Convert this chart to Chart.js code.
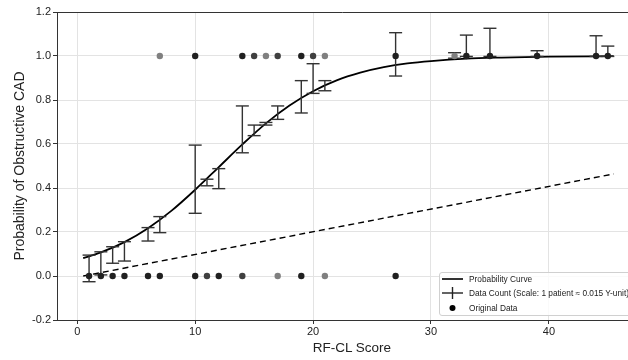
<!DOCTYPE html>
<html><head><meta charset="utf-8">
<script src="https://cdn.jsdelivr.net/npm/chart.js@4/dist/chart.umd.min.js"></script>
<style>
html,body{margin:0;padding:0;background:#fff;overflow:hidden;}
#wrap{position:relative;width:628px;height:360px;overflow:hidden;}
#legend{position:absolute;left:439px;top:272px;width:240px;height:42px;background:rgba(255,255,255,0.8);border:1px solid #d0d0d0;border-radius:3px;font-family:"Liberation Sans",Arial,sans-serif;font-size:8.3px;color:#222;}
.row{position:absolute;left:0;height:12px;display:flex;align-items:center;white-space:nowrap;}
.row svg{margin-left:2px;margin-right:6px;}
#xtitle{position:absolute;left:252px;width:200px;top:339px;height:18px;line-height:18px;text-align:center;font-family:"Liberation Sans",Arial,sans-serif;font-size:13.5px;color:#222;}
</style></head>
<body>
<div id="wrap">
<canvas id="c" width="628" height="360"></canvas>
<div id="xtitle">RF-CL Score</div>
<div id="legend">
  <div class="row" style="top:-0.5px"><svg width="21" height="12"><line x1="0" y1="6" x2="21" y2="6" stroke="#000" stroke-width="1.6"/></svg><span>Probability Curve</span></div>
  <div class="row" style="top:14px"><svg width="21" height="12"><line x1="0" y1="6" x2="21" y2="6" stroke="#222" stroke-width="1.4"/><line x1="10.5" y1="0" x2="10.5" y2="12" stroke="#222" stroke-width="1.4"/></svg><span>Data Count (Scale: 1 patient ≈ 0.015 Y-unit)</span></div>
  <div class="row" style="top:28.5px"><svg width="21" height="12"><circle cx="10.5" cy="6" r="3" fill="#000"/></svg><span>Original Data</span></div>
</div>
</div>
<script>
// ---- data ----
const curveX = [0.5, 2, 4, 6, 8, 10, 12, 14, 16, 18, 20, 22, 24, 26, 28, 30, 33, 36, 40, 45.5];
const curveY = [0.081, 0.107, 0.154, 0.217, 0.297, 0.392, 0.495, 0.598, 0.694, 0.775, 0.840, 0.889, 0.924, 0.949, 0.966, 0.977, 0.988, 0.993, 0.997, 0.999];

const refX = [0.5, 45.5];
const refY = [0.0, 0.464];

const errX    = [1, 2, 3, 4, 6, 7, 10, 11, 12, 14, 15, 16, 17, 19, 20, 21, 27, 32, 33, 35, 39, 44, 45];
const errLow  = [-0.026, 0.005, 0.058, 0.068, 0.159, 0.197, 0.285, 0.41, 0.397, 0.56, 0.638, 0.686, 0.712, 0.741, 0.83, 0.842, 0.909, 0.99, 0.998, 0.998, 0.998, 0.998, 0.998];
const errHigh = [0.095, 0.11, 0.133, 0.156, 0.22, 0.27, 0.595, 0.44, 0.488, 0.773, 0.686, 0.698, 0.773, 0.888, 0.965, 0.888, 1.106, 1.015, 1.095, 1.126, 1.024, 1.092, 1.045];

const pos1X     = [7, 10, 14, 15, 16, 17, 19, 20, 21, 27, 32, 33, 35, 39, 44, 45];
const pos1Count = [1, 3, 3, 2, 1, 2, 3, 2, 1, 3, 1, 3, 3, 3, 3, 3];
const pos0X     = [1, 2, 3, 4, 6, 7, 10, 11, 12, 14, 17, 19, 21, 27];
const pos0Count = [3, 3, 3, 3, 3, 3, 3, 2, 3, 2, 1, 3, 1, 3];

const xTicks = [0, 10, 20, 30, 40];
const yTicks = [-0.2, 0.0, 0.2, 0.4, 0.6, 0.8, 1.0, 1.2];
const xMin = -1.72, xMax = 46.71, yMin = -0.2, yMax = 1.2;

// ---- build datasets ----
const FONT = '"Liberation Sans", Arial, sans-serif';
const alphaColor = n => { const v = Math.round(255 * Math.pow(0.5, n)); return `rgb(${v},${v},${v})`; };

const pts = [], ptCols = [];
pos1X.forEach((x, i) => { pts.push({x, y: 1}); ptCols.push(alphaColor(pos1Count[i])); });
pos0X.forEach((x, i) => { pts.push({x, y: 0}); ptCols.push(alphaColor(pos0Count[i])); });

const errData = [];
errX.forEach((x, i) => { errData.push({x, y: errLow[i]}, {x, y: errHigh[i]}, {x, y: null}); });

const topSpine = {
  id: 'topSpine',
  afterDraw(chart) {
    const {ctx, chartArea: a} = chart;
    ctx.save(); ctx.strokeStyle = '#333'; ctx.lineWidth = 1;
    ctx.beginPath(); ctx.moveTo(a.left, a.top + 0.5); ctx.lineTo(a.right, a.top + 0.5); ctx.stroke();
    ctx.restore();
  }
};

new Chart(document.getElementById('c'), {
  type: 'scatter',
  data: {
    datasets: [
      { label: 'Original Data', data: pts, backgroundColor: ptCols, pointRadius: 3.2, borderWidth: 0, pointBorderWidth: 0 },
      { label: 'Data Count', data: errData, showLine: true, spanGaps: false, borderColor: '#333', borderWidth: 1.4,
        pointStyle: 'line', pointRadius: 6.5, pointBorderColor: '#333', pointBorderWidth: 1.4, pointBackgroundColor: '#333' },
      { label: 'Probability Curve', data: curveX.map((x, i) => ({x, y: curveY[i]})), showLine: true,
        borderColor: '#000', borderWidth: 1.8, pointRadius: 0, cubicInterpolationMode: 'monotone' },
      { label: 'Reference', data: refX.map((x, i) => ({x, y: refY[i]})), showLine: true,
        borderColor: '#000', borderWidth: 1.4, borderDash: [6, 4], pointRadius: 0 }
    ]
  },
  options: {
    responsive: false, devicePixelRatio: 1, animation: false,
    layout: { autoPadding: false, padding: { top: 12, right: 0, bottom: 0, left: 0 } },
    plugins: { legend: { display: false }, tooltip: { enabled: false } },
    scales: {
      x: {
        type: 'linear', min: xMin, max: xMax,
        afterBuildTicks: a => { a.ticks = xTicks.map(v => ({value: v})); },
        afterFit: a => { a.height = 40; a.paddingLeft = 0; a.paddingRight = 0; },
        ticks: { font: {family: FONT, size: 11}, color: '#222', padding: 1, maxRotation: 0, callback: v => String(v) },
        grid: { color: '#e3e3e3', lineWidth: 1, tickColor: '#333', tickLength: 4 },
        border: { color: '#333', width: 1 },
        title: { display: false }
      },
      y: {
        type: 'linear', min: yMin, max: yMax,
        afterBuildTicks: a => { a.ticks = yTicks.map(v => ({value: v})); },
        afterFit: a => { a.width = 57; a.paddingTop = 0; a.paddingBottom = 0; },
        ticks: { font: {family: FONT, size: 11}, color: '#222', padding: 2, callback: v => Number(v).toFixed(1) },
        grid: { color: '#e3e3e3', lineWidth: 1, tickColor: '#333', tickLength: 4 },
        border: { color: '#333', width: 1 },
        title: { display: true, text: 'Probability of Obstructive CAD', font: {family: FONT, size: 14}, color: '#222', padding: {top: 12, bottom: 0} }
      }
    }
  },
  plugins: [topSpine]
});
</script>
</body></html>
